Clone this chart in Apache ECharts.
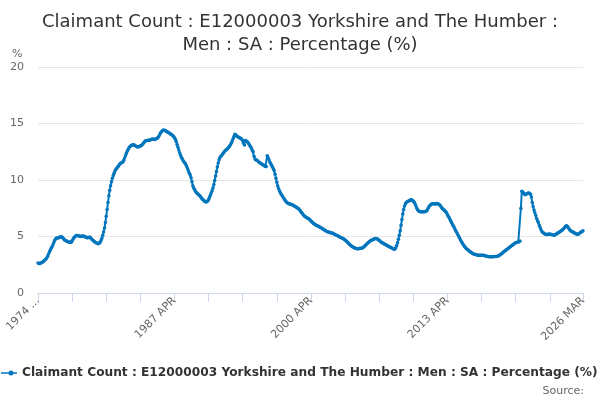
<!DOCTYPE html>
<html>
<head>
<meta charset="utf-8">
<script src="https://cdn.jsdelivr.net/npm/echarts@6/dist/echarts.min.js"></script>
<style>html,body{margin:0;padding:0;background:#fff}#c{width:600px;height:400px}</style>
</head>
<body>
<div id="c"></div>
<script>
// Monthly values, April 1974 to March 2026 (one array per year, Jan..Dec)
const firstYear = 1974, firstMonth = 4;
const y1974 = [2.65, 2.62, 2.62, 2.65, 2.68, 2.72, 2.78, 2.85, 2.92]; // Apr-Dec
const y1975 = [3.0, 3.1, 3.25, 3.45, 3.62, 3.78, 3.95, 4.1, 4.25, 4.45, 4.65, 4.78];
const y1976 = [4.84, 4.86, 4.88, 4.9, 4.95, 4.98, 4.98, 4.92, 4.82, 4.72, 4.66, 4.62];
const y1977 = [4.58, 4.55, 4.52, 4.5, 4.48, 4.5, 4.6, 4.75, 4.88, 4.98, 5.05, 5.08];
const y1978 = [5.08, 5.06, 5.04, 5.02, 5.0, 5.02, 5.05, 5.04, 5.0, 4.96, 4.95, 4.9];
const y1979 = [4.88, 4.92, 4.95, 4.9, 4.8, 4.72, 4.65, 4.58, 4.52, 4.48, 4.42, 4.38];
const y1980 = [4.35, 4.4, 4.5, 4.65, 4.85, 5.1, 5.4, 5.75, 6.25, 6.8, 7.4, 8.0];
const y1981 = [8.6, 9.1, 9.5, 9.85, 10.15, 10.4, 10.6, 10.8, 10.95, 11.05, 11.15, 11.25];
const y1982 = [11.35, 11.45, 11.5, 11.55, 11.6, 11.75, 11.95, 12.15, 12.35, 12.55, 12.7, 12.85];
const y1983 = [12.95, 13.02, 13.08, 13.1, 13.12, 13.1, 13.05, 12.98, 12.95, 12.93, 12.95, 12.98];
const y1984 = [13.0, 13.05, 13.12, 13.2, 13.3, 13.4, 13.48, 13.5, 13.5, 13.52, 13.5, 13.55];
const y1985 = [13.58, 13.6, 13.62, 13.6, 13.58, 13.6, 13.65, 13.7, 13.75, 13.85, 14.0, 14.15];
const y1986 = [14.25, 14.35, 14.4, 14.42, 14.38, 14.35, 14.3, 14.25, 14.2, 14.15, 14.1, 14.05];
const y1987 = [14.0, 13.92, 13.85, 13.75, 13.6, 13.4, 13.15, 12.9, 12.65, 12.4, 12.2, 12.0];
const y1988 = [11.85, 11.7, 11.6, 11.5, 11.38, 11.2, 11.0, 10.8, 10.6, 10.45, 10.2, 9.85];
const y1989 = [9.5, 9.3, 9.15, 9.0, 8.9, 8.82, 8.75, 8.68, 8.6, 8.5, 8.4, 8.3];
const y1990 = [8.22, 8.15, 8.1, 8.06, 8.08, 8.15, 8.28, 8.45, 8.65, 8.85, 9.05, 9.3];
const y1991 = [9.6, 9.95, 10.35, 10.75, 11.15, 11.5, 11.8, 12.0, 12.1, 12.2, 12.3, 12.4];
const y1992 = [12.5, 12.6, 12.65, 12.72, 12.8, 12.9, 13.0, 13.12, 13.28, 13.45, 13.65, 13.85];
const y1993 = [14.05, 14.0, 13.9, 13.85, 13.8, 13.75, 13.72, 13.68, 13.6, 13.45, 13.25, 13.1];
const y1994 = [13.5, 13.45, 13.4, 13.3, 13.2, 13.05, 12.95, 12.8, 12.6, 12.5, 12.1, 11.85];
const y1995 = [11.8, 11.75, 11.7, 11.62, 11.55, 11.5, 11.45, 11.4, 11.35, 11.3, 11.25, 11.2];
const y1996 = [11.2, 12.15, 12.0, 11.8, 11.6, 11.45, 11.3, 11.15, 11.0, 10.85, 10.5, 10.15];
const y1997 = [9.8, 9.5, 9.25, 9.05, 8.9, 8.75, 8.62, 8.5, 8.38, 8.25, 8.15, 8.05];
const y1998 = [7.98, 7.92, 7.9, 7.88, 7.85, 7.82, 7.8, 7.75, 7.7, 7.65, 7.6, 7.55];
const y1999 = [7.5, 7.45, 7.35, 7.25, 7.15, 7.05, 6.95, 6.85, 6.78, 6.72, 6.68, 6.62];
const y2000 = [6.6, 6.55, 6.45, 6.38, 6.3, 6.22, 6.15, 6.1, 6.05, 6.0, 5.95, 5.92];
const y2001 = [5.88, 5.85, 5.8, 5.75, 5.7, 5.65, 5.6, 5.55, 5.5, 5.45, 5.42, 5.4];
const y2002 = [5.38, 5.35, 5.32, 5.3, 5.28, 5.25, 5.2, 5.15, 5.12, 5.08, 5.05, 5.0];
const y2003 = [4.96, 4.92, 4.88, 4.84, 4.8, 4.75, 4.7, 4.62, 4.55, 4.48, 4.4, 4.32];
const y2004 = [4.25, 4.18, 4.12, 4.06, 4.02, 3.98, 3.96, 3.94, 3.92, 3.92, 3.93, 3.94];
const y2005 = [3.95, 3.96, 4.0, 4.05, 4.12, 4.2, 4.28, 4.36, 4.42, 4.5, 4.56, 4.62];
const y2006 = [4.66, 4.7, 4.74, 4.78, 4.8, 4.82, 4.82, 4.78, 4.72, 4.66, 4.6, 4.52];
const y2007 = [4.46, 4.42, 4.38, 4.34, 4.3, 4.25, 4.2, 4.16, 4.12, 4.08, 4.04, 4.0];
const y2008 = [3.96, 3.92, 3.88, 3.9, 4.0, 4.2, 4.45, 4.75, 5.1, 5.5, 6.0, 6.5];
const y2009 = [7.0, 7.4, 7.7, 7.9, 8.0, 8.08, 8.12, 8.15, 8.2, 8.23, 8.25, 8.2];
const y2010 = [8.12, 8.05, 7.9, 7.7, 7.5, 7.35, 7.28, 7.22, 7.2, 7.2, 7.2, 7.2];
const y2011 = [7.2, 7.2, 7.22, 7.25, 7.35, 7.5, 7.65, 7.75, 7.82, 7.88, 7.9, 7.9];
const y2012 = [7.9, 7.88, 7.9, 7.92, 7.9, 7.85, 7.8, 7.72, 7.6, 7.5, 7.42, 7.35];
const y2013 = [7.3, 7.2, 7.1, 6.95, 6.8, 6.65, 6.5, 6.35, 6.2, 6.05, 5.9, 5.75];
const y2014 = [5.6, 5.45, 5.3, 5.15, 5.0, 4.85, 4.7, 4.55, 4.42, 4.3, 4.18, 4.08];
const y2015 = [3.98, 3.9, 3.84, 3.78, 3.72, 3.66, 3.6, 3.55, 3.5, 3.46, 3.42, 3.4];
const y2016 = [3.38, 3.36, 3.35, 3.34, 3.34, 3.35, 3.35, 3.34, 3.33, 3.32, 3.3, 3.28];
const y2017 = [3.26, 3.24, 3.22, 3.21, 3.2, 3.2, 3.2, 3.21, 3.22, 3.22, 3.22, 3.23];
const y2018 = [3.25, 3.28, 3.32, 3.36, 3.42, 3.48, 3.55, 3.62, 3.68, 3.74, 3.8, 3.86];
const y2019 = [3.92, 3.98, 4.04, 4.1, 4.16, 4.22, 4.28, 4.34, 4.4, 4.44, 4.48, 4.5];
const y2020 = [4.52, 4.54, 4.6, 7.5, 9.0, 8.95, 8.85, 8.75, 8.7, 8.75, 8.8, 8.82];
const y2021 = [8.85, 8.82, 8.75, 8.5, 8.0, 7.65, 7.35, 7.1, 6.85, 6.6, 6.4, 6.25];
const y2022 = [6.0, 5.8, 5.6, 5.45, 5.35, 5.3, 5.25, 5.2, 5.18, 5.18, 5.2, 5.22];
const y2023 = [5.2, 5.2, 5.18, 5.15, 5.13, 5.12, 5.15, 5.2, 5.25, 5.3, 5.34, 5.4];
const y2024 = [5.45, 5.5, 5.55, 5.62, 5.7, 5.8, 5.9, 5.96, 5.9, 5.8, 5.68, 5.58];
const y2025 = [5.5, 5.45, 5.42, 5.38, 5.32, 5.28, 5.24, 5.2, 5.2, 5.22, 5.28, 5.35];
const y2026 = [5.4, 5.45, 5.5]; // Jan-Mar

const yearArrays = [y1974,y1975,y1976,y1977,y1978,y1979,y1980,y1981,y1982,y1983,y1984,y1985,y1986,y1987,y1988,y1989,y1990,y1991,y1992,y1993,y1994,y1995,y1996,y1997,y1998,y1999,y2000,y2001,y2002,y2003,y2004,y2005,y2006,y2007,y2008,y2009,y2010,y2011,y2012,y2013,y2014,y2015,y2016,y2017,y2018,y2019,y2020,y2021,y2022,y2023,y2024,y2025,y2026];
const monthNames = ['JAN','FEB','MAR','APR','MAY','JUN','JUL','AUG','SEP','OCT','NOV','DEC'];
const seriesName = 'Claimant Count : E12000003 Yorkshire and The Humber : Men : SA : Percentage (%)';
const yTicks = [0, 5, 10, 15, 20];

const categories = [];
const values = [];
yearArrays.forEach((arr, k) => {
  const yr = firstYear + k;
  const startM = (k === 0) ? firstMonth - 1 : 0;
  arr.forEach((v, j) => {
    categories.push(yr + ' ' + monthNames[startM + j]);
    values.push(v);
  });
});
const lastIdx = categories.length - 1;

const chart = echarts.init(document.getElementById('c'), null, {renderer: 'canvas'});
const FONT = 'DejaVu Sans';
const BLUE = '#0076bd';
chart.setOption({
  animation: false,
  textStyle: {fontFamily: FONT},
  title: [
    {text: 'Claimant Count : E12000003 Yorkshire and The Humber :\nMen : SA : Percentage (%)', left: 'center', top: 6,
     textStyle: {fontFamily: FONT, fontSize: 18, fontWeight: 'normal', color: '#333', lineHeight: 23}},
    {text: '%', left: 7, top: 44, textStyle: {fontFamily: FONT, fontSize: 11, fontWeight: 'normal', color: '#666'}},
    {text: 'Source:', right: 11, top: 381, textStyle: {fontFamily: FONT, fontSize: 11, fontWeight: 'normal', color: '#666'}}
  ],
  legend: {
    left: -4, top: 362, itemWidth: 16, itemHeight: 5, itemGap: 5, padding: 5,
    textStyle: {fontFamily: FONT, fontSize: 12.2, fontWeight: 'bold', color: '#333'},
    data: [{name: seriesName, itemStyle: {color: BLUE},
      icon: 'path://M0,1.75 L16,1.75 L16,3.25 L0,3.25 Z M7.5,2.5 a2.5,2.5 0 1,1 5,0 a2.5,2.5 0 1,1 -5,0'}]
  },
  grid: {left: 38, right: 17, top: 67, bottom: 107, containLabel: false},
  xAxis: {
    type: 'category', data: categories, boundaryGap: false,
    axisLine: {lineStyle: {color: '#ccd6eb'}},
    axisTick: {length: 9, lineStyle: {color: '#ccd6eb'}, interval: (i) => i % 39 === 0 || i === lastIdx},
    axisLabel: {
      rotate: 45, color: '#666', fontSize: 11, fontFamily: FONT, margin: 6,
      interval: (i) => i % 156 === 0 || i === lastIdx,
      formatter: (v, i) => i === 0 ? v.slice(0, 4) + ' ...' : v
    },
    splitLine: {show: false}
  },
  yAxis: {
    type: 'value', min: yTicks[0], max: yTicks[yTicks.length - 1], interval: 5,
    axisLine: {show: false}, axisTick: {show: false},
    axisLabel: {color: '#666', fontSize: 11, fontFamily: FONT, margin: 14},
    splitLine: {lineStyle: {color: '#e6e6e6'}}
  },
  series: [{
    name: seriesName, type: 'line', data: values,
    showSymbol: true, showAllSymbol: true, symbol: 'circle', symbolSize: 3.5,
    lineStyle: {width: 2, color: BLUE}, itemStyle: {color: BLUE}
  }]
});
</script>
</body>
</html>
